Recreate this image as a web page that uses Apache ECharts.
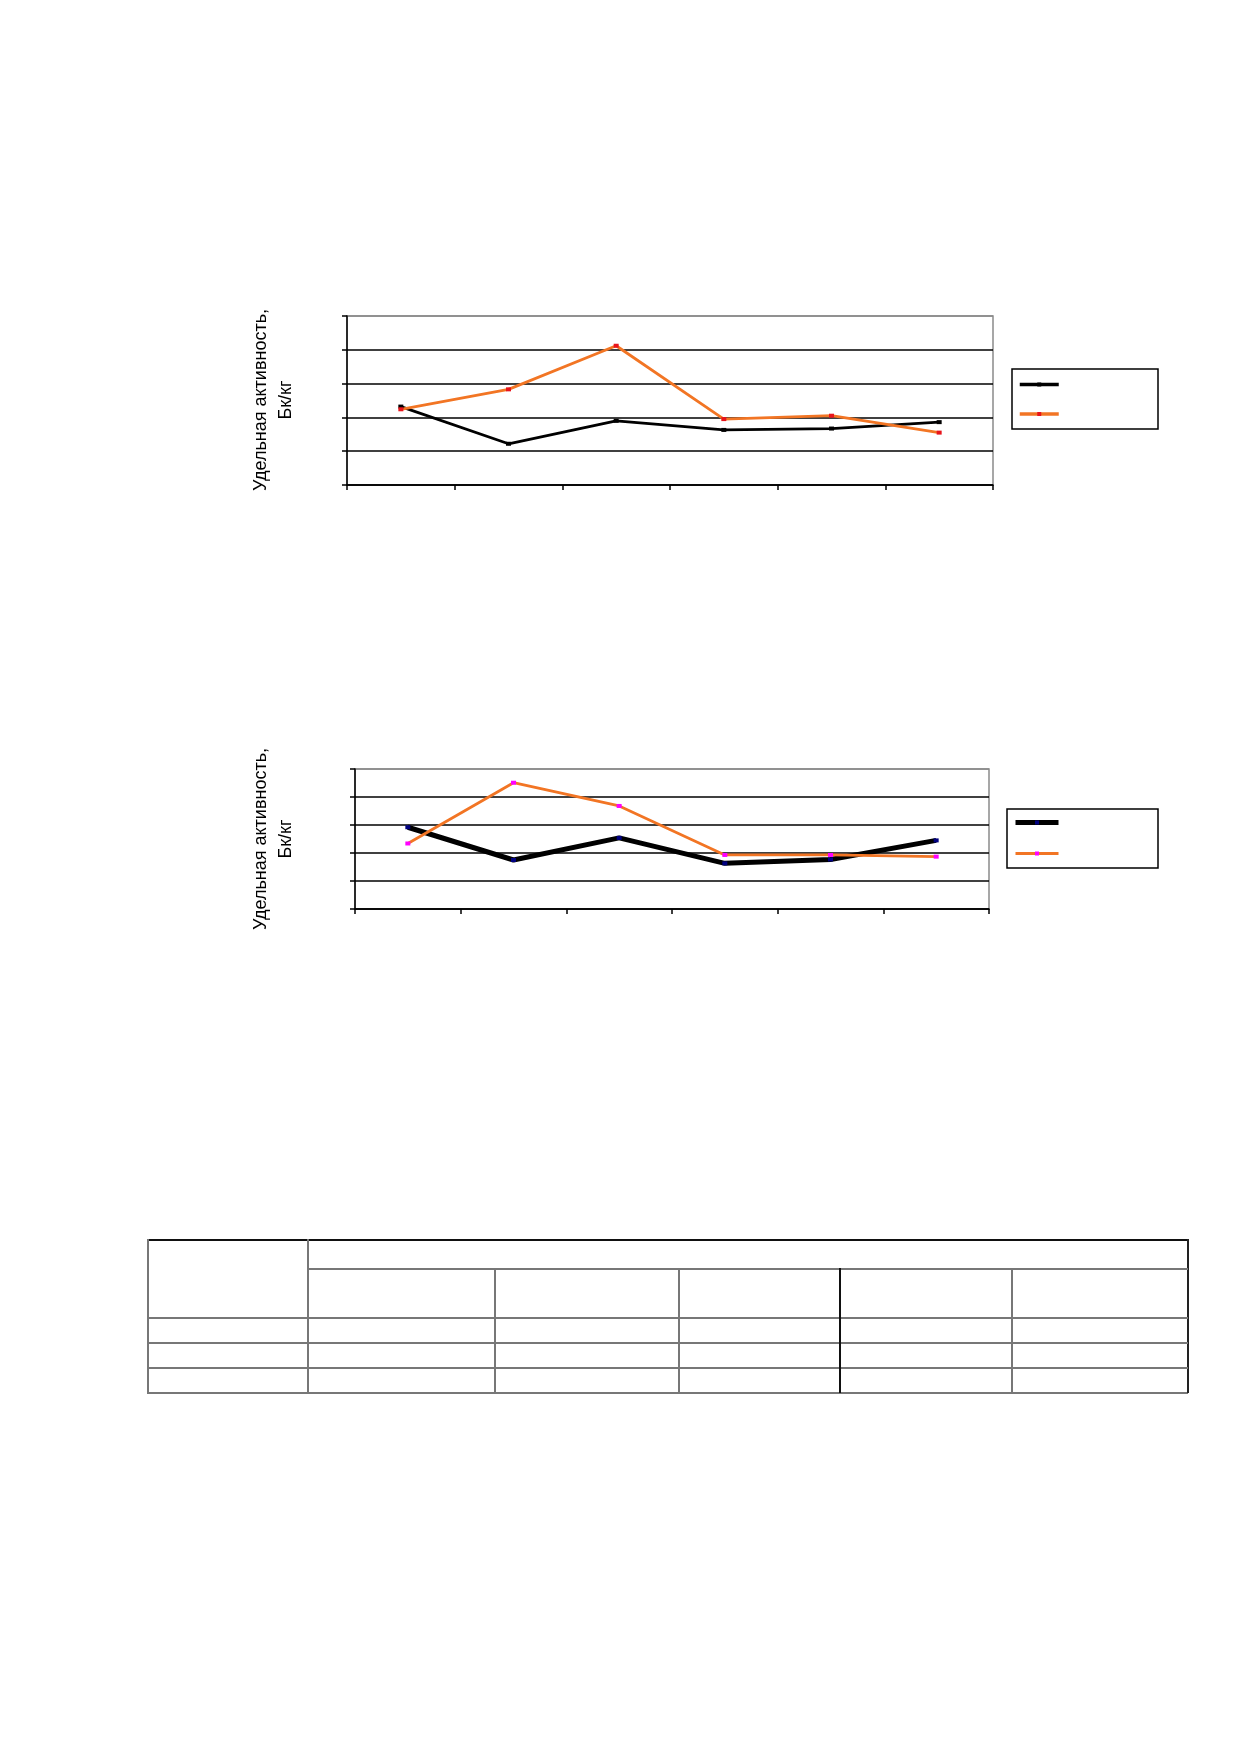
<!DOCTYPE html>
<html>
<head>
<meta charset="utf-8">
<script src="https://cdn.jsdelivr.net/npm/echarts@6/dist/echarts.min.js"></script>
<style>
html,body{margin:0;padding:0;background:#fff;}
#chart{position:absolute;left:0;top:0;width:1239px;height:1752px;}
.ln{position:absolute;background:#777;}
</style>
</head>
<body>
<div id="chart"></div>
<div id="table"></div>
<script>
// ---- data ----
var categories = ['1', '2', '3', '4', '5', '6'];
var yTicks = [0, 1, 2, 3, 4, 5];
var chart1Black = [2.32, 1.22, 1.90, 1.63, 1.67, 1.86];
var chart1Orange = [2.24, 2.83, 4.12, 1.95, 2.05, 1.55];
var chart2Black = [2.92, 1.75, 2.54, 1.63, 1.77, 2.45];
var chart2Orange = [2.34, 4.51, 3.68, 1.93, 1.93, 1.87];
var seriesNames = ['Ряд1', 'Ряд2'];
var yLabel = 'Удельная активность,\nБк/кг';

var ORANGE = '#F27524';
var FONT = 'Liberation Sans, Arial, sans-serif';

function xAx(gi) {
  return {
    type: 'category', gridIndex: gi, data: categories, boundaryGap: true,
    axisLine: {show: true, lineStyle: {color: '#000', width: 1.5}},
    axisTick: {show: true, interval: 0, length: 5, lineStyle: {color: '#000', width: 1.5}},
    axisLabel: {show: false},
    splitLine: {show: false}
  };
}
function yAx(gi) {
  return {
    type: 'value', gridIndex: gi, min: yTicks[0], max: yTicks[yTicks.length - 1], interval: 1,
    axisLine: {show: true, lineStyle: {color: '#000', width: 1.5}},
    axisTick: {show: true, length: 5, lineStyle: {color: '#000', width: 1.5}},
    axisLabel: {show: false},
    splitLine: {show: true, lineStyle: {color: ['#000', '#000', '#000', '#000', '#000', '#8a8a8a'], width: 1.5}}
  };
}
function ser(name, gi, data, color, width, markColor) {
  return {
    name: name, type: 'line', xAxisIndex: gi, yAxisIndex: gi, data: data,
    symbol: 'rect', symbolSize: [5, 4], showSymbol: true,
    lineStyle: {color: color, width: width},
    itemStyle: {color: markColor, borderWidth: 0},
    emphasis: {disabled: true}, animation: false
  };
}

var chart = echarts.init(document.getElementById('chart'), null, {renderer: 'canvas'});
chart.setOption({
  backgroundColor: '#fff',
  animation: false,
  grid: [
    {left: 347, top: 316, width: 646, height: 169, show: true, borderColor: '#8a8a8a', borderWidth: 1.5, containLabel: false},
    {left: 355, top: 769, width: 634, height: 140, show: true, borderColor: '#8a8a8a', borderWidth: 1.5, containLabel: false}
  ],
  xAxis: [xAx(0), xAx(1)],
  yAxis: [yAx(0), yAx(1)],
  legend: [
    {orient: 'vertical', left: 1018, top: 382, padding: 0, itemWidth: 39, itemHeight: 5, itemGap: 25,
     data: [{name: seriesNames[0], lineStyle: {width: 3.5}}, {name: seriesNames[1], lineStyle: {width: 3.5}}],
     formatter: function(){ return ''; }, selectedMode: false},
    {orient: 'vertical', left: 1013, top: 820, padding: 0, itemWidth: 43, itemHeight: 5, itemGap: 26,
     data: [{name: seriesNames[0] + ' ', lineStyle: {width: 5}}, {name: seriesNames[1] + ' ', lineStyle: {width: 3}}],
     formatter: function(){ return ''; }, selectedMode: false}
  ],
  series: [
    ser(seriesNames[0], 0, chart1Black, '#000', 2.8, '#000'),
    ser(seriesNames[1], 0, chart1Orange, ORANGE, 2.8, '#E8141B'),
    ser(seriesNames[0] + ' ', 1, chart2Black, '#000', 5, '#000080'),
    ser(seriesNames[1] + ' ', 1, chart2Orange, ORANGE, 2.8, '#FF00FF')
  ],
  graphic: [
    {type: 'rect', shape: {x: 1012, y: 369, width: 146, height: 60}, style: {fill: 'none', stroke: '#000', lineWidth: 1.5}, silent: true},
    {type: 'rect', shape: {x: 1007, y: 809, width: 151, height: 59}, style: {fill: 'none', stroke: '#000', lineWidth: 1.5}, silent: true},
    {type: 'text', x: 274, y: 400, rotation: Math.PI / 2,
     style: {text: yLabel, font: '18px ' + FONT, fill: '#000', align: 'center', verticalAlign: 'middle', lineHeight: 25}, silent: true},
    {type: 'text', x: 274, y: 839, rotation: Math.PI / 2,
     style: {text: yLabel, font: '18px ' + FONT, fill: '#000', align: 'center', verticalAlign: 'middle', lineHeight: 25}, silent: true}
  ]
});

// ---- empty table (layout only) ----
var t = document.getElementById('table');
function ln(x, y, w, h, c) {
  var d = document.createElement('div');
  d.className = 'ln';
  d.style.left = x + 'px'; d.style.top = y + 'px';
  d.style.width = w + 'px'; d.style.height = h + 'px';
  if (c) d.style.background = c;
  t.appendChild(d);
}
var L = 147, R = 1188, T = 1239, B = 1393;
ln(L, T, R - L, 2, '#111');          // top
ln(L, B - 1, R - L, 2);             // bottom
ln(L, T, 2, B - T);                 // left
ln(R - 1, T, 2, B - T, '#222');     // right
ln(307, T, 2, B - T);               // first column
ln(307, 1268, R - 307, 2);          // sub-header line
[1317, 1342, 1367].forEach(function(y){ ln(L, y, R - L, 2); });
[494, 678].forEach(function(x){ ln(x, 1268, 2, B - 1268); });
ln(839, 1268, 2, B - 1268, '#111');
ln(1011, 1268, 2, B - 1268);
</script>
</body>
</html>
